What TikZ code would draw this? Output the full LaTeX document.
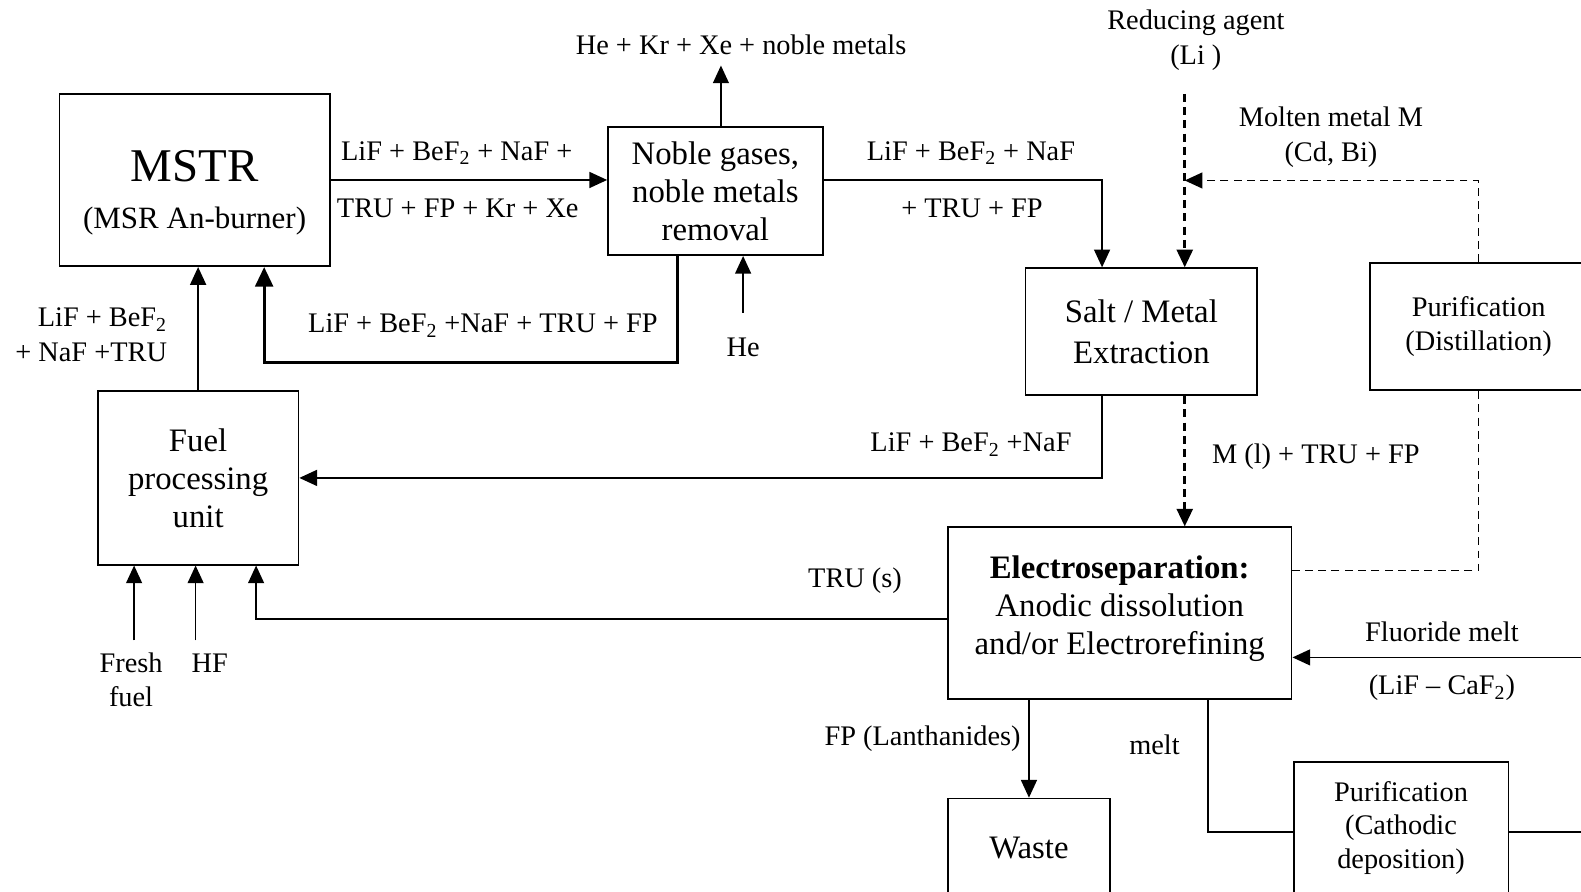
\documentclass[tikz,border=0pt]{standalone}
\usepackage{fontspec}
\setmainfont{Liberation Serif}
\usetikzlibrary{arrows.meta, positioning, calc}
\newcommand{\lbltxt}{\fontsize{16}{19.5}\selectfont}
\newcommand{\boxtxt}{\fontsize{18.5}{21.5}\selectfont}
\tikzstyle{unit} = [rectangle, draw=black, line width=1pt, align=center, inner sep=0pt, font=\boxtxt]
\tikzstyle{note} = [align=center, inner sep=0pt, font=\lbltxt]
\tikzstyle{arrow} = [line width=0.9pt, -{Triangle[length=10pt,width=9pt]}]
\tikzstyle{flowthick} = [line width=1.7pt, -{Triangle[length=11pt,width=10pt]}]
\tikzstyle{metalflow} = [line width=1.6pt, dash pattern=on 4.5pt off 3pt, -{Triangle[length=10pt,width=9pt]}]
\tikzstyle{recycle} = [line width=0.9pt, dash pattern=on 4.5pt off 3pt]

\begin{document}
\begin{tikzpicture}[x=0.02cm, y=-0.02cm]
\useasboundingbox (0,0) rectangle (1568,884);
% process units
\node(mstr)[unit, minimum width=5.36cm, minimum height=3.42cm, font=\fontsize{17.5}{26}\selectfont] at (193,178.5) {{\fontsize{26.5}{26}\selectfont\rule{0pt}{32pt}MSTR}\\(MSR An-burner)};
\node(noble)[unit, minimum width=4.26cm, minimum height=2.54cm] at (709.5,189.5) {Noble gases,\\noble metals\\removal};
\node(salt)[unit, minimum width=4.6cm, minimum height=2.52cm, font=\fontsize{18.5}{22.7}\selectfont] at (1132,329) {Salt / Metal\\Extraction};
\node(purdist)[unit, minimum width=4.3cm, minimum height=2.52cm, font=\fontsize{16}{19.3}\selectfont] at (1466.5,324) {Purification\\(Distillation)};
\node(electro)[unit, minimum width=6.82cm, minimum height=3.4cm] at (1110.5,608) {\textbf{Electroseparation:}\\Anodic dissolution\\and/or Electrorefining\rule[-9pt]{0pt}{1pt}};
\node(fuel)[unit, minimum width=3.98cm, minimum height=3.44cm] at (196.5,474) {Fuel\\processing\\unit};
\node(waste)[unit, minimum width=3.22cm, minimum height=1.96cm] at (1020.5,841) {Waste};
\node(purcath)[unit, minimum width=4.26cm, minimum height=2.6cm, font=\fontsize{16}{19}\selectfont] at (1389.5,821) {Purification\\(Cathodic\\deposition)};
% stream labels
\node(lbla)[note] at (453,152) {LiF + BeF\textsubscript{2} + NaF +};
\node(lblb)[note] at (454,207) {TRU + FP + Kr + Xe};
\node(gases)[note] at (735,44) {He + Kr + Xe + noble metals};
\node(he)[note] at (737,345) {He};
\node(lblc)[note] at (479,323) {LiF + BeF\textsubscript{2} +NaF + TRU + FP};
\node(lbld)[note] at (963,152) {LiF + BeF\textsubscript{2} + NaF};
\node(lble)[note] at (964,207) {+ TRU + FP};
\node(reduc)[note] at (1186,40) {Reducing agent\\(Li )};
\node(molten)[note] at (1320,136) {Molten metal M\\(Cd, Bi)};
\node(lblf)[note] at (1305,453) {M (l) + TRU + FP};
\node(lblg)[note] at (963,441) {LiF + BeF\textsubscript{2} +NaF};
\node(lblh)[note, align=right, anchor=east] at (166,332) {LiF + BeF\textsubscript{2}\\+ NaF +TRU};
\node(fresh)[note] at (130,674) {Fresh\\fuel};
\node(hf)[note] at (208,658) {HF};
\node(trus)[note] at (848,576) {TRU (s)};
\node(fluor)[note] at (1430,627) {Fluoride melt};
\node(lif)[note] at (1430,682) {(LiF -- CaF\textsubscript{2})};
\node(lanth)[note] at (915,733) {FP (Lanthanides)};
\node(melt)[note] at (1145,739) {melt};
% free ends and bends
\coordinate (gasout) at (715,65);
\coordinate (heup) at (737,310);
\coordinate (ret) at (672,360);
\coordinate (redtop) at (1175,93);
\coordinate (mjoin) at (1175,179);
\coordinate (freshin) at (133,635);
\coordinate (hfin) at (194,635);
\coordinate (fluorin) at (1570,652);
\coordinate (cathout) at (1570,825);
% streams
\draw [arrow] (mstr.east) -- (mstr.east -| noble.west);
\draw [arrow] (noble.north -| gasout) -- (gasout);
\draw [arrow] (heup) -- (heup |- noble.south);
\draw [flowthick] (noble.south -| ret) -- (ret) -| ([xshift=1.38cm]mstr.south);
\draw [arrow] (noble.east |- mstr.east) -| ([xshift=-0.78cm]salt.north);
\draw [metalflow] (redtop) -- (redtop |- salt.north);
\draw [recycle, -{Triangle[length=10pt,width=9pt]}] (purdist.north) |- (mjoin);
\draw [recycle] (purdist.south) |- ([yshift=0.84cm]electro.east);
\draw [metalflow] (redtop |- salt.south) -- (redtop |- electro.north);
\draw [arrow] ([xshift=-0.78cm]salt.south) |- (fuel.east);
\draw [arrow] (fuel.north) -- (fuel.north |- mstr.south);
\draw [arrow] (freshin) -- (freshin |- fuel.south);
\draw [arrow] (hfin) -- (hfin |- fuel.south);
\draw [arrow] ([yshift=-0.12cm]electro.west) -| ([xshift=1.15cm]fuel.south);
\draw [arrow] (fluorin) -- (fluorin -| electro.east);
\draw [arrow] (waste.north |- electro.south) -- (waste.north);
\draw [line width=0.9pt] ([xshift=1.75cm]electro.south) |- (cathout -| purcath.west);
\draw [line width=0.9pt] (cathout -| purcath.east) -- (cathout);
\end{tikzpicture}
\end{document}
